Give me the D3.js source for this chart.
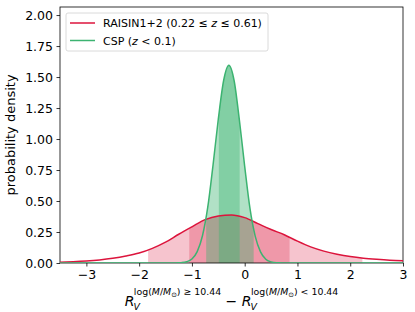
<!DOCTYPE html>
<html>
<head>
<meta charset="utf-8">
<script src="https://cdn.jsdelivr.net/npm/d3@7"></script>
<style>
  body { margin: 0; background: #fff; }
  svg { display: block; font-family: "DejaVu Sans", sans-serif; }
</style>
</head>
<body>
<svg id="chart" width="415" height="312"></svg>
<script>
// values
const xTicks = [-3, -2, -1, 0, 1, 2, 3];
const yTicks = [0, 0.25, 0.5, 0.75, 1.0, 1.25, 1.5, 1.75, 2.0];

// RAISIN1+2 density
const raisinX = [-3.5, -3.25, -3.0, -2.75, -2.5, -2.25, -2.0, -1.75, -1.5, -1.25, -1.0, -0.75, -0.5, -0.25,
                 0.0, 0.25, 0.5, 0.75, 1.0, 1.25, 1.5, 1.75, 2.0, 2.25, 2.5, 2.75, 3.0];
const raisinY = [0.006, 0.010, 0.016, 0.025, 0.038, 0.056, 0.080, 0.118, 0.168, 0.232, 0.292, 0.350, 0.380, 0.388,
                 0.366, 0.318, 0.270, 0.228, 0.176, 0.130, 0.096, 0.071, 0.052, 0.039, 0.030, 0.023, 0.019];

// CSP density
const cspX = [-3.5, -1.4, -1.3, -1.2, -1.1, -1.0, -0.9, -0.8, -0.7, -0.6, -0.5, -0.4, -0.3,
              -0.2, -0.1, 0.0, 0.1, 0.2, 0.3, 0.4, 0.5, 0.6, 0.7, 0.8, 3.0];
const cspY = [0, 0, 0.001, 0.003, 0.010, 0.032, 0.092, 0.220, 0.450, 0.790, 1.160, 1.470, 1.595,
              1.470, 1.150, 0.780, 0.440, 0.215, 0.090, 0.030, 0.009, 0.002, 0.001, 0, 0];

// shaded intervals [outer, inner]
const raisinBands = [[-1.83, 2.23], [-1.05, 0.85]];
const cspBands = [[-0.73, 0.17], [-0.49, -0.095]];

const RED = "#dc143c";
const GREEN = "#3cb371";

const margin = { top: 7, right: 12, bottom: 49, left: 60 };
const W = 415, H = 312;
const width = W - margin.left - margin.right;
const height = H - margin.top - margin.bottom;

const svg = d3.select("#chart");
const g = svg.append("g").attr("transform", `translate(${margin.left},${margin.top})`);

const xScale = d3.scaleLinear().domain([-3.5, 3]).range([0, width]);
const yScale = d3.scaleLinear().domain([0, 2.065]).range([height, 0]);

g.append("clipPath").attr("id", "plot-clip")
  .append("rect").attr("width", width).attr("height", height);

const toPts = (xs, ys) => xs.map((x, i) => [x, ys[i]]);
const raisin = toPts(raisinX, raisinY);
const csp = toPts(cspX, cspY);

const area = d3.area()
  .x(d => xScale(d[0]))
  .y0(yScale(0))
  .y1(d => yScale(d[1]))
  .curve(d3.curveMonotoneX);

const line = d3.line()
  .x(d => xScale(d[0]))
  .y(d => yScale(d[1]))
  .curve(d3.curveMonotoneX);

// band fills clipped to each interval
function drawBands(data, bands, color, opacity, name) {
  bands.forEach((b, i) => {
    const id = `clip-${name}-${i}`;
    g.append("clipPath").attr("id", id)
      .append("rect")
      .attr("x", xScale(b[0]))
      .attr("width", xScale(b[1]) - xScale(b[0]))
      .attr("y", 0)
      .attr("height", height);
    g.append("path")
      .datum(data)
      .attr("d", area)
      .attr("fill", color)
      .attr("fill-opacity", opacity)
      .attr("clip-path", `url(#${id})`);
  });
}

drawBands(raisin, raisinBands, RED, 0.25, "raisin");
drawBands(csp, cspBands, GREEN, 0.4, "csp");

// axes
const xAxis = d3.axisBottom(xScale).tickValues(xTicks).tickFormat(d3.format("d"))
  .tickSize(3.5).tickSizeOuter(0).tickPadding(3.5);
const yAxis = d3.axisLeft(yScale).tickValues(yTicks).tickFormat(d3.format(".2f"))
  .tickSize(3.5).tickSizeOuter(0).tickPadding(3.5);

const xAxisGroup = g.append("g").attr("transform", `translate(0,${height})`).call(xAxis);
const yAxisGroup = g.append("g").call(yAxis);

[xAxisGroup, yAxisGroup].forEach(ax => {
  ax.attr("font-family", "DejaVu Sans, sans-serif").attr("font-size", 12.5);
  ax.select(".domain").remove();
  ax.selectAll(".tick line").attr("stroke", "#000").attr("stroke-width", 0.8);
  ax.selectAll(".tick text").attr("fill", "#000");
});

// frame
g.append("rect")
  .attr("width", width).attr("height", height)
  .attr("fill", "none").attr("stroke", "#000").attr("stroke-width", 0.8);

// curves on top, green baseline sits over the bottom spine
const lines = g.append("g").attr("clip-path", "url(#plot-clip)");
lines.append("path").datum(raisin).attr("d", line)
  .attr("fill", "none").attr("stroke", RED).attr("stroke-width", 1.5);
lines.append("path").datum(csp).attr("d", line)
  .attr("fill", "none").attr("stroke", GREEN).attr("stroke-width", 1.5);

// legend
const legend = g.append("g").attr("transform", "translate(6,6)");
legend.append("rect")
  .attr("width", 202).attr("height", 38).attr("rx", 2)
  .attr("fill", "#fff").attr("fill-opacity", 0.8)
  .attr("stroke", "#d0d0d0").attr("stroke-width", 0.8);

[RED, GREEN].forEach((c, i) => {
  const yy = 10 + i * 17.5;
  legend.append("line")
    .attr("x1", 4).attr("x2", 29).attr("y1", yy).attr("y2", yy)
    .attr("stroke", c).attr("stroke-width", 1.5);
});

function legendText(i, parts) {
  const t = legend.append("text")
    .attr("x", 37).attr("y", 10 + i * 17.5 + 4)
    .attr("font-size", 11);
  parts.forEach(p => t.append("tspan").attr("font-style", p[1] ? "italic" : null).text(p[0]));
}
legendText(0, [["RAISIN1+2 (0.22 \u2264 ", 0], ["z", 1], [" \u2264 0.61)", 0]]);
legendText(1, [["CSP (", 0], ["z", 1], [" < 0.1)", 0]]);

// y label
svg.append("text")
  .attr("transform", `translate(15,${margin.top + height / 2}) rotate(-90)`)
  .attr("text-anchor", "middle")
  .attr("font-size", 13)
  .text("probability density");

// x label: R_V^{log(M/M⊙) ≥ 10.44} − R_V^{log(M/M⊙) < 10.44}
const xl = svg.append("text")
  .attr("x", margin.left + width / 2)
  .attr("y", 306)
  .attr("text-anchor", "middle")
  .attr("font-size", 14);

function rTerm(op) {
  const fs = 9.4;
  xl.append("tspan").attr("font-style", "italic").text("R");
  xl.append("tspan").attr("font-style", "italic").attr("font-size", fs).attr("dy", 4).attr("dx", -1).text("V");
  xl.append("tspan").attr("font-size", fs).attr("dy", -15).attr("dx", -6).text("log(");
  xl.append("tspan").attr("font-size", fs).attr("font-style", "italic").text("M");
  xl.append("tspan").attr("font-size", fs).text("/");
  xl.append("tspan").attr("font-size", fs).attr("font-style", "italic").text("M");
  xl.append("tspan").attr("font-size", 6.8).attr("dy", 2).text("\u2299");
  xl.append("tspan").attr("font-size", fs).attr("dy", -2).text(`) ${op} 10.44`);
}
rTerm("\u2265");
xl.append("tspan").attr("dy", 11).text(" \u2212 ");
rTerm("<");
</script>
</body>
</html>
